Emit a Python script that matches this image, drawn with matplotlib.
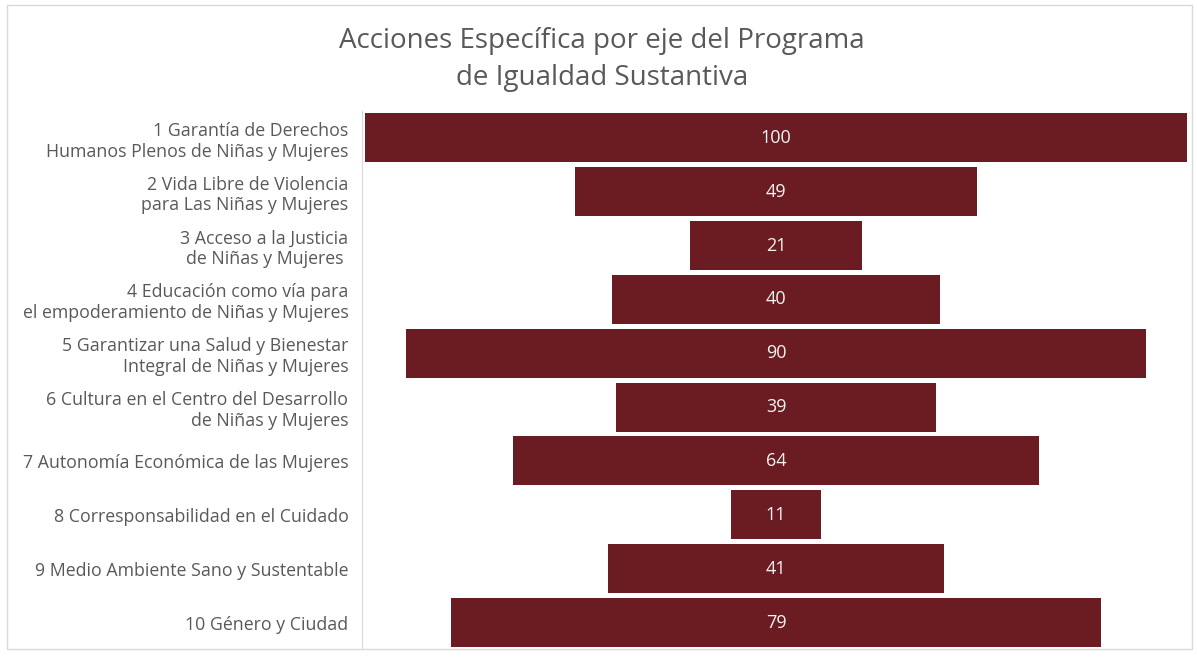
import matplotlib
matplotlib.use("Agg")
import matplotlib.pyplot as plt
from matplotlib.patches import Rectangle

categories = [
    "1 Garantía de Derechos\nHumanos Plenos de Niñas y Mujeres",
    "2 Vida Libre de Violencia\npara Las Niñas y Mujeres",
    "3 Acceso a la Justicia\nde Niñas y Mujeres ",
    "4 Educación como vía para\nel empoderamiento de Niñas y Mujeres",
    "5 Garantizar una Salud y Bienestar\nIntegral de Niñas y Mujeres",
    "6 Cultura en el Centro del Desarrollo\nde Niñas y Mujeres",
    "7 Autonomía Económica de las Mujeres",
    "8 Corresponsabilidad en el Cuidado",
    "9 Medio Ambiente Sano y Sustentable",
    "10 Género y Ciudad",
]
values = [100, 49, 21, 40, 90, 39, 64, 11, 41, 79]

title = "Acciones Específica por eje del Programa\nde Igualdad Sustantiva"

plt.rcParams['font.family'] = ['Open Sans', 'DejaVu Sans']

fig = plt.figure(figsize=(11.97, 6.6), dpi=100)
fig.patch.set_facecolor("white")
fig.add_artist(Rectangle((0.006, 0.017), 0.99, 0.975, transform=fig.transFigure,
                         fill=False, edgecolor="#d9d9d9", linewidth=1))

ax = fig.add_axes([0.305, 0.016, 0.6866, 0.816])
vmax = max(values)
n = len(values)
ypos = list(range(n))
lefts = [(vmax - v) / 2 for v in values]
ax.barh(ypos, values, left=lefts, height=0.91, color="#6a1c22")
for y, v in zip(ypos, values):
    ax.text(vmax / 2, y, str(v), ha="center", va="center", color="#f2f2f2", fontsize=13)

ax.set_xlim(0, vmax)
ax.set_ylim(n - 0.5, -0.5)
ax.set_yticks(ypos)
ax.set_yticklabels(categories)
ax.tick_params(axis="y", length=0, pad=10, labelsize=12.8, labelcolor="#595959")
for lab in ax.get_yticklabels():
    lab.set_multialignment("center")
    lab.set_linespacing(1.38)
ax.set_xticks([])
for s in ["top", "right", "bottom"]:
    ax.spines[s].set_visible(False)
ax.spines["left"].set_color("#d9d9d9")
ax.spines["left"].set_position(("outward", 2))

fig.text(0.503, 0.91, title, ha="center", va="center", fontsize=20, color="#595959",
         linespacing=1.45)

fig.savefig("out.png", dpi=100)
